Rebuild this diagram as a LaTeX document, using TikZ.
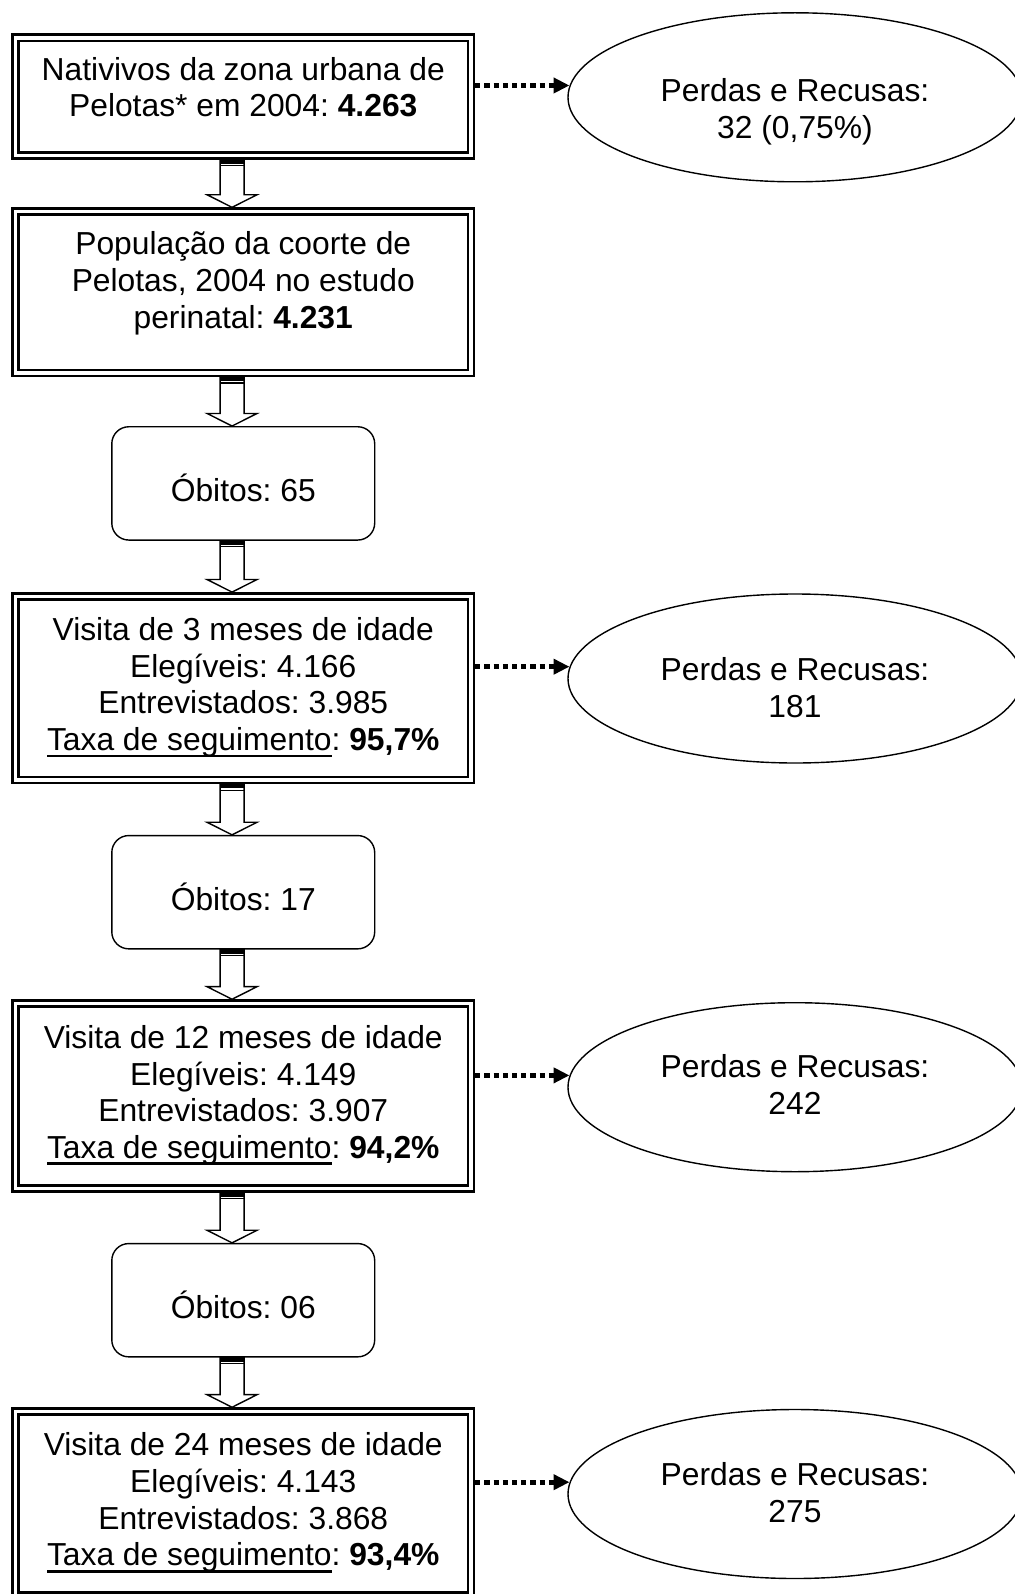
\documentclass[tikz,border=0pt]{standalone}
\usepackage{fontspec}
\setmainfont{Liberation Sans}
\usetikzlibrary{shapes.geometric,arrows.meta,calc}
\frenchspacing

% texto sublinhado como no original
\newcommand{\sublinhado}[1]{\setbox0\hbox{#1}\rlap{\rule[-3.4pt]{\wd0}{1.4pt}}\box0}
% linhas centradas, deslocadas na vertical
\newcommand{\linhas}[2]{\raisebox{#1}[\height][\depth]{\begin{tabular}{@{}c@{}}#2\end{tabular}}}
% seta larga entre duas caixas
\newcommand{\setabloco}[2]{%
    \draw[seta] let \p1=(#1.south), \p2=(#2.north) in
        (\x1-11.6pt,\y1) -- (\x1-11.6pt,\y2+6.3pt) -- (\x1-18.1pt,\y2+6.3pt) -- (\x1-5.6pt,\y2)
        -- (\x1+6.9pt,\y2+6.3pt) -- (\x1+0.4pt,\y2+6.3pt) -- (\x1+0.4pt,\y1) -- cycle;
    \fill let \p1=(#1.south) in (\x1-11.6pt,\y1) rectangle (\x1+0.4pt,\y1-2pt);
    \draw[line width=0.7pt] let \p1=(#1.south) in (\x1-11.6pt,\y1-3pt) -- (\x1+0.4pt,\y1-3pt);
}

\begin{document}
\begin{tikzpicture}[x=0.5pt, y=-0.5pt, font=\fontsize{15.9}{18.35}\selectfont,
    caixa/.style={draw, double, line width=1.2pt, double distance=1.85pt,
        minimum width=227.75pt, inner sep=0pt, outer sep=2.125pt},
    obito/.style={draw, rounded corners=8.5pt, line width=0.7pt,
        minimum width=131.45pt, minimum height=56.65pt, inner sep=0pt},
    perda/.style={draw, ellipse, line width=0.7pt,
        minimum width=227pt, minimum height=84.5pt, inner sep=0pt},
    seta/.style={draw, fill=white, line width=0.7pt},
    pontilhada/.style={line width=2.4pt, dash pattern=on 2.6pt off 2pt,
        -{Triangle[length=8pt,width=7.5pt]}}]
        \useasboundingbox (0,0) rectangle (1015,1594);

        % Caixas do fluxo
        \node[caixa, minimum height=58.9pt] (b1) at (243.25,96.6)
            {\linhas{2.75pt}{Nativivos da zona urbana de\\Pelotas* em 2004: \textbf{4.263}}};
        \node[caixa, minimum height=80.6pt] (b2) at (243.25,292.2)
            {\linhas{4pt}{População da coorte de\\Pelotas, 2004 no estudo\\perinatal: \textbf{4.231}}};
        \node[caixa, minimum height=91.85pt] (b3) at (243.25,688.2)
            {\linhas{0pt}{Visita de 3 meses de idade\\Elegíveis: 4.166\\Entrevistados: 3.985\\\sublinhado{Taxa de seguimento}: \textbf{95,7\%}}};
        \node[caixa, minimum height=92.5pt] (b4) at (243.25,1096)
            {\linhas{0pt}{Visita de 12 meses de idade\\Elegíveis: 4.149\\Entrevistados: 3.907\\\sublinhado{Taxa de seguimento}: \textbf{94,2\%}}};
        \node[caixa, minimum height=92pt] (b5) at (243.25,1503.5)
            {\linhas{0pt}{Visita de 24 meses de idade\\Elegíveis: 4.143\\Entrevistados: 3.868\\\sublinhado{Taxa de seguimento}: \textbf{93,4\%}}};

        % Óbitos
        \node[obito] (o1) at (243.25,483.4)  {\linhas{-4.7pt}{Óbitos: 65}};
        \node[obito] (o2) at (243.25,892.2)  {\linhas{-5pt}{Óbitos: 17}};
        \node[obito] (o3) at (243.25,1300.2) {\linhas{-5pt}{Óbitos: 06}};

        % Perdas e recusas
        \node[perda] (e1) at (795,97.3)   {\linhas{-7.7pt}{Perdas e Recusas:\\32 (0,75\%)}};
        \node[perda] (e2) at (795,678.5)  {\linhas{-6.5pt}{Perdas e Recusas:\\181}};
        \node[perda] (e3) at (795,1087.2) {\linhas{-0.7pt}{Perdas e Recusas:\\242}};
        \node[perda] (e4) at (795,1494)   {\linhas{-1.2pt}{Perdas e Recusas:\\275}};

        % Setas
        \foreach \a/\b in {b1/b2,b2/o1,o1/b3,b3/o2,o2/b4,b4/o3,o3/b5} {\setabloco{\a}{\b}}
        \foreach \b/\e in {b1/e1,b3/e2,b4/e3,b5/e4} \draw[pontilhada] (\b.east |- \e.177) -- (\e.177);
    \end{tikzpicture}
\end{document}
